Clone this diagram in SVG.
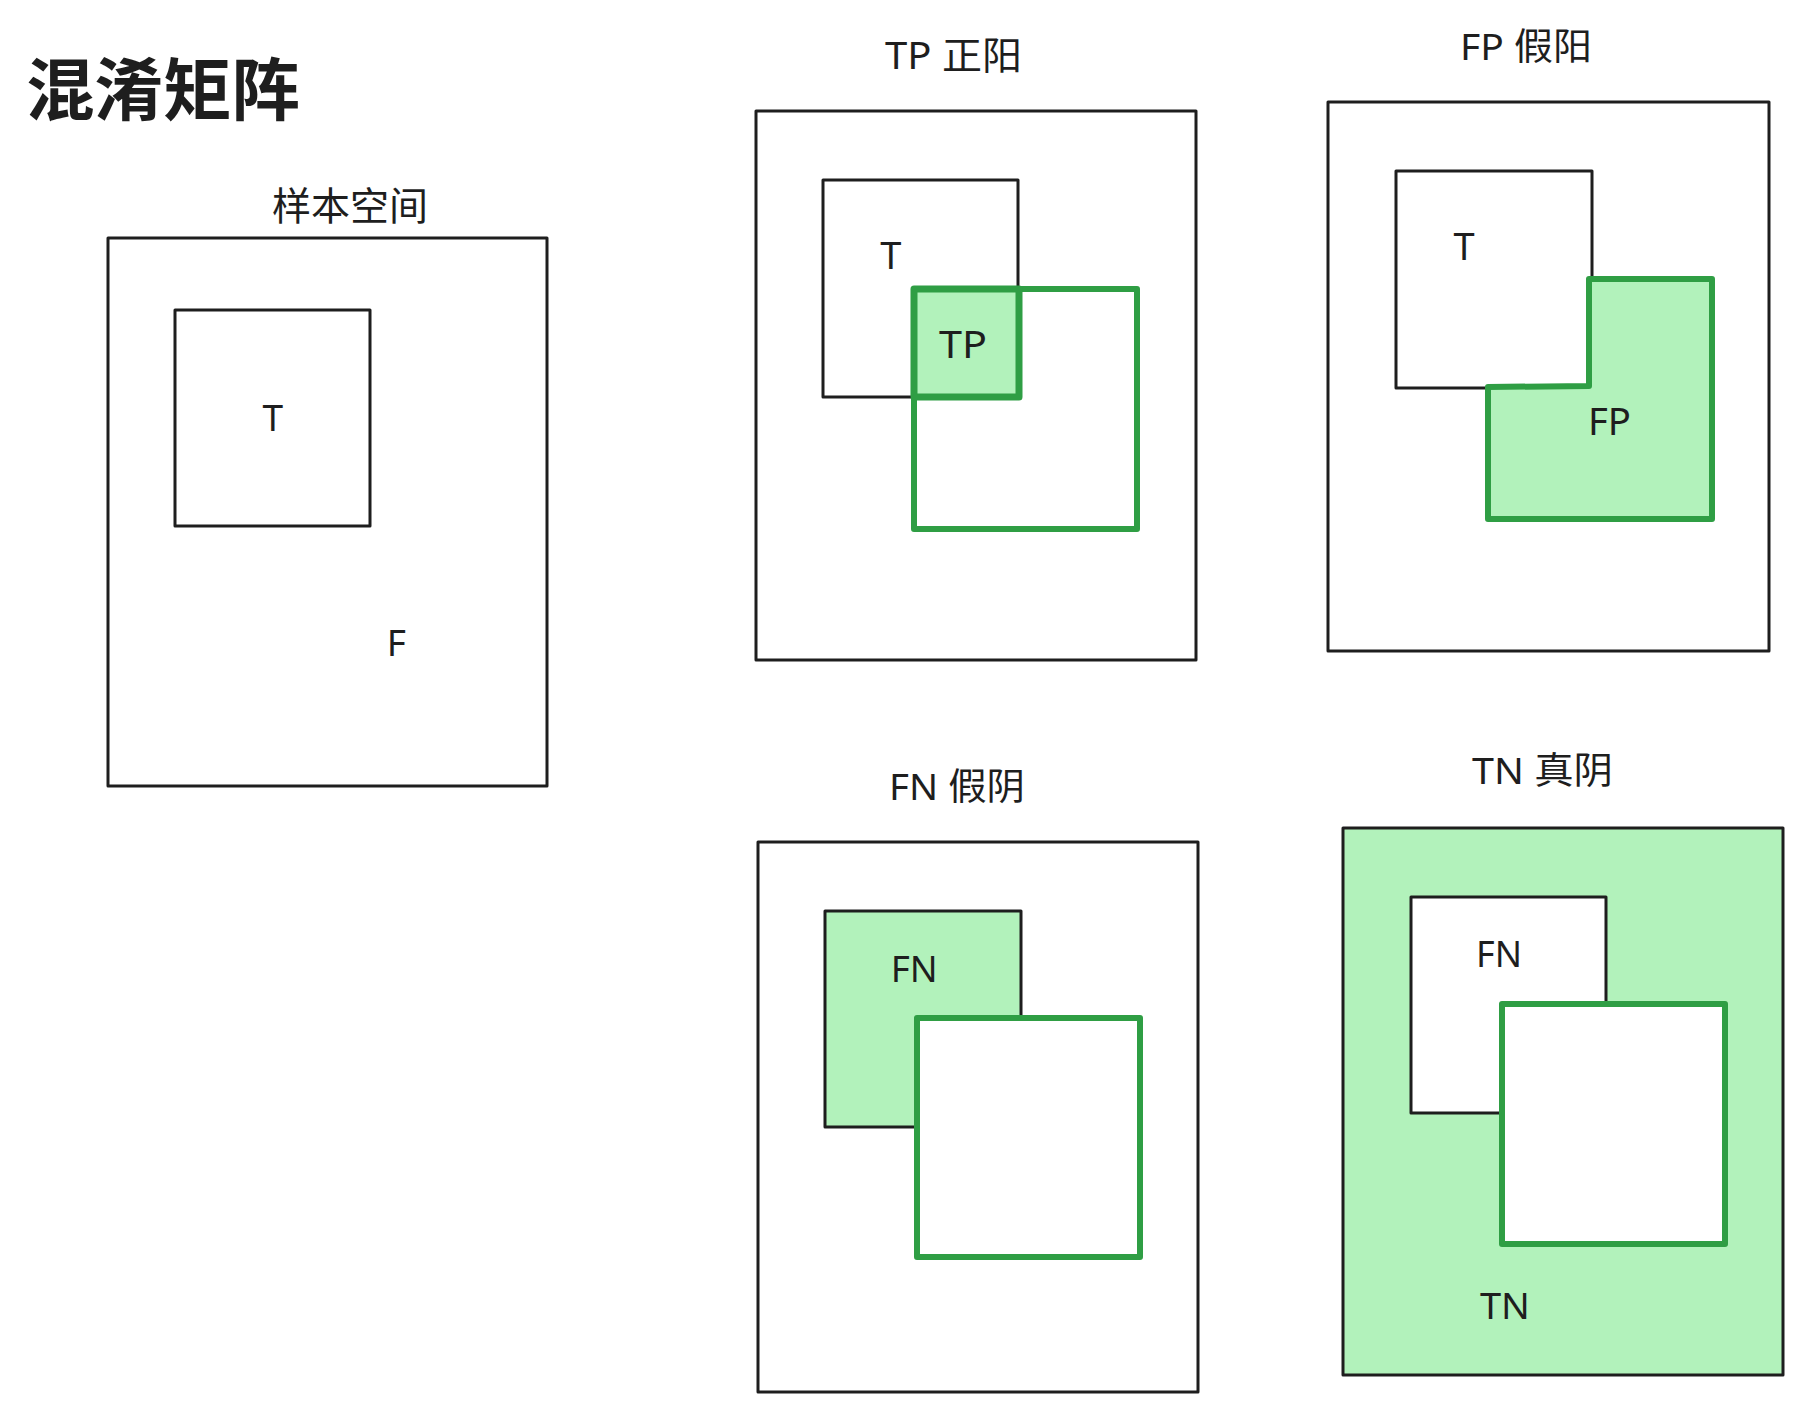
<svg xmlns="http://www.w3.org/2000/svg" width="1802" height="1411" viewBox="0 0 1802 1411">
<style>
.blk{fill:none;stroke:#1e1e1e;stroke-width:3;stroke-linejoin:round;stroke-linecap:round}
.grn{fill:none;stroke:#2f9e44;stroke-width:6;stroke-linejoin:round;stroke-linecap:round}
.lf{fill:#b2f2bb}
.wf{fill:#ffffff}
text{font-family:"Noto Sans","Noto Sans CJK SC",sans-serif;fill:#1e1e1e}
</style>
<rect width="1802" height="1411" fill="#ffffff"/>
<g id="title">
<text x="26" y="115" font-size="68" font-weight="bold" textLength="274" lengthAdjust="spacingAndGlyphs">混淆矩阵</text>
</g>
<g id="sample-space">
<text x="272" y="220" font-size="39" textLength="156" lengthAdjust="spacingAndGlyphs">样本空间</text>
<rect class="blk" x="108" y="238" width="439" height="548"/>
<rect class="blk" x="175" y="310" width="195" height="216"/>
<text x="272.7" y="431" font-size="37" text-anchor="middle">T</text>
<text x="386.7" y="656" font-size="37">F</text>
</g>
<g id="tp-panel">
<text x="885" y="69" font-size="38" textLength="137" lengthAdjust="spacingAndGlyphs">TP 正阳</text>
<rect class="blk" x="756" y="111" width="440" height="549"/>
<rect class="blk" x="823" y="180" width="195" height="217"/>
<rect class="grn" x="914" y="289" width="223" height="240"/>
<rect class="grn lf" x="914" y="289" width="105" height="108" style="stroke-width:7"/>
<text x="890.7" y="269.3" font-size="38" text-anchor="middle">T</text>
<text x="939" y="358" font-size="38" textLength="48" lengthAdjust="spacingAndGlyphs">TP</text>
</g>
<g id="fp-panel">
<text x="1460" y="60" font-size="37" textLength="132" lengthAdjust="spacingAndGlyphs">FP 假阳</text>
<rect class="blk" x="1328" y="102" width="441" height="549"/>
<rect class="blk" x="1396" y="171" width="196" height="217"/>
<path class="grn lf" d="M1589,279 L1712,279 L1712,519 L1488,519 L1488,387 L1589,386 Z"/>
<text x="1464" y="260" font-size="38" text-anchor="middle">T</text>
<text x="1588" y="435" font-size="38" textLength="43" lengthAdjust="spacingAndGlyphs">FP</text>
</g>
<g id="fn-panel">
<text x="889" y="800" font-size="37" textLength="136" lengthAdjust="spacingAndGlyphs">FN 假阴</text>
<rect class="blk" x="758" y="842" width="440" height="550"/>
<rect class="blk lf" x="825" y="911" width="196" height="216"/>
<rect class="grn wf" x="917" y="1018" width="223" height="239"/>
<text x="890.7" y="981.5" font-size="37" textLength="47" lengthAdjust="spacingAndGlyphs">FN</text>
</g>
<g id="tn-panel">
<text x="1472" y="784" font-size="37" textLength="141" lengthAdjust="spacingAndGlyphs">TN 真阴</text>
<rect class="blk lf" x="1343" y="828" width="440" height="547"/>
<rect class="blk wf" x="1411" y="897" width="195" height="216"/>
<rect class="grn wf" x="1502" y="1004" width="223" height="240"/>
<text x="1476" y="967" font-size="37" textLength="46" lengthAdjust="spacingAndGlyphs">FN</text>
<text x="1480" y="1318.6" font-size="37" textLength="50" lengthAdjust="spacingAndGlyphs">TN</text>
</g>
<g id="connectors"></g>
</svg>
